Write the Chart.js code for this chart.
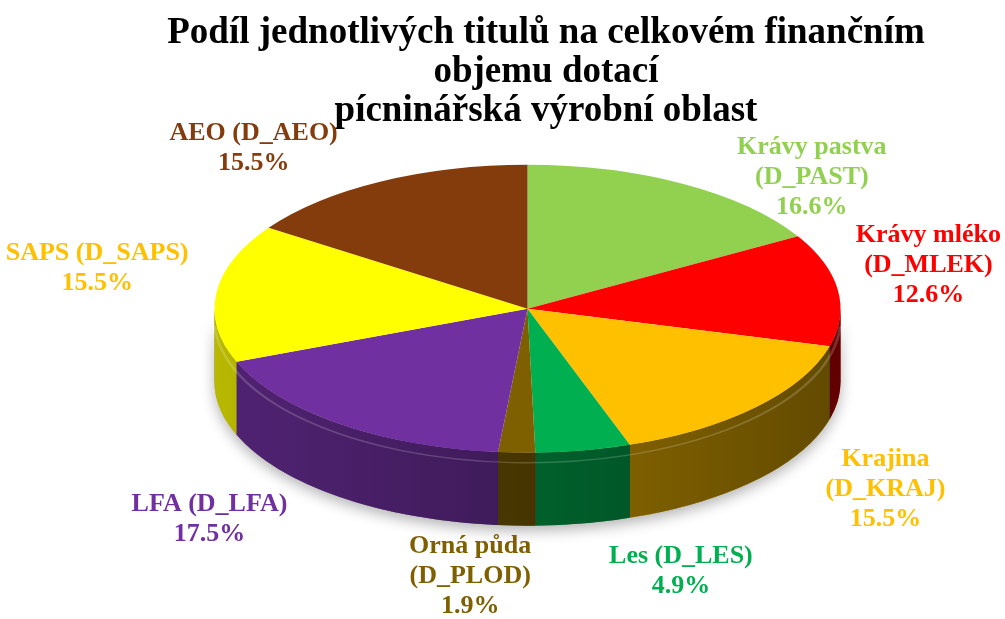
<!DOCTYPE html>
<html>
<head>
<meta charset="utf-8">
<script src="https://cdn.jsdelivr.net/npm/chart.js@4"></script>
<style>
  html, body { margin: 0; padding: 0; background: #fff; }
  #box { width: 1005px; height: 619px; }
</style>
</head>
<body>
<div id="box"><canvas id="graf"></canvas></div>
<script>
// data
const kategorie = ['Krávy pastva (D_PAST)', 'Krávy mléko (D_MLEK)', 'Krajina (D_KRAJ)', 'Les (D_LES)',
    'Orná půda (D_PLOD)', 'LFA (D_LFA)', 'SAPS (D_SAPS)', 'AEO (D_AEO)'];
const popisky = [['Krávy pastva', '(D_PAST)'], ['Krávy mléko', '(D_MLEK)'], ['Krajina', '(D_KRAJ)'], ['Les (D_LES)'],
    ['Orná půda', '(D_PLOD)'], ['LFA (D_LFA)'], ['SAPS (D_SAPS)'], ['AEO (D_AEO)']];
const podily = [16.6, 12.6, 15.5, 4.9, 1.9, 17.5, 15.5, 15.5];
const titulek = ['Podíl jednotlivých titulů na celkovém finančním', 'objemu dotací', 'pícninářská výrobní oblast'];

const barvy = ['#92D050', '#FF0000', '#FFC000', '#00B050', '#7F6000', '#7030A0', '#FFFF00', '#843C0C'];
const barvyTextu = ['#92D050', '#FF0000', '#FFC000', '#00B050', '#7F6000', '#7030A0', '#FFC000', '#843C0C'];

const SKLON = 0.46;   // vertical squash of the pie
const HLOUBKA = 73;   // side height in px
const PISMO_TITULKU = { family: '"Liberation Serif", "Times New Roman", serif', size: 37, weight: 'bold', lineHeight: 1.05 };

function bok(ctx, cx, cy, r, d, a0, a1) {
    ctx.beginPath();
    ctx.arc(cx, cy, r, a0, a1);
    ctx.arc(cx, cy + d, r, a1, a0, true);
    ctx.closePath();
}

const kolac3d = {
    id: 'kolac3d',
    beforeDatasetsDraw(chart) {
        const ctx = chart.ctx;
        const oblouky = chart.getDatasetMeta(0).data;
        const { x: cx, y: cy, outerRadius: r } = oblouky[0];
        const d = HLOUBKA / SKLON;

        ctx.save();
        ctx.translate(cx, cy);
        ctx.scale(1, SKLON);
        ctx.translate(-cx, -cy);

        // shadow under the pie
        ctx.save();
        ctx.shadowColor = 'rgba(0,0,0,0.3)';
        ctx.shadowBlur = 14;
        ctx.shadowOffsetY = 5;
        bok(ctx, cx, cy, r, d, 0, Math.PI);
        ctx.fillStyle = '#777';
        ctx.fill();
        ctx.restore();

        // side walls
        oblouky.forEach((a, i) => {
            const a0 = Math.max(a.startAngle, 0);
            const a1 = Math.min(a.endAngle, Math.PI);
            if (a1 <= a0) return;
            bok(ctx, cx, cy, r, d, a0, a1);
            ctx.fillStyle = barvy[i];
            ctx.fill();
        });
        const stin = ctx.createLinearGradient(cx - r, 0, cx + r, 0);
        stin.addColorStop(0, 'rgba(0,0,0,0.28)');
        stin.addColorStop(1, 'rgba(0,0,0,0.62)');
        bok(ctx, cx, cy, r, d, 0, Math.PI);
        ctx.fillStyle = stin;
        ctx.fill();

        // rim highlight
        ctx.beginPath();
        ctx.arc(cx, cy + 10 / SKLON, r, 0.05, Math.PI - 0.05);
        ctx.strokeStyle = 'rgba(255,255,255,0.18)';
        ctx.lineWidth = 3;
        ctx.stroke();

        // top face
        oblouky.forEach(a => a.draw(ctx));
        ctx.restore();
        return false;
    },
    afterDraw(chart) {
        const ctx = chart.ctx;
        const oblouky = chart.getDatasetMeta(0).data;
        const W = chart.width;
        const tb = chart.titleBlock;

        // horizontal extent of the last title line
        ctx.save();
        ctx.font = `bold ${PISMO_TITULKU.size}px ${PISMO_TITULKU.family}`;
        const posl = titulek[titulek.length - 1];
        const wCelk = ctx.measureText('\u2003' + posl).width;
        const wText = ctx.measureText(posl).width;
        const stred = (tb.left + tb.right) / 2;
        const tL = stred + wCelk / 2 - wText, tR = stred + wCelk / 2;
        ctx.restore();

        ctx.save();
        ctx.font = 'bold 26px "Liberation Serif", "Times New Roman", serif';
        ctx.textAlign = 'center';
        ctx.textBaseline = 'middle';
        const lh = 30;
        oblouky.forEach((a, i) => {
            const { x: cx, y: cy, outerRadius: r } = a;
            const ry = r * SKLON;
            const mid = (a.startAngle + a.endAngle) / 2;
            const ux = Math.cos(mid), uy = Math.sin(mid);
            const radky = popisky[i].concat([podily[i].toFixed(1) + '%']);
            const sirka = Math.max(...radky.map(t => ctx.measureText(t).width));
            const vyska = radky.length * lh;
            let x = cx + 1.38 * r * Math.sign(ux) * Math.pow(Math.abs(ux), 0.6);
            let y = uy < 0
                ? cy - (0.16 + 1.08 * -uy) * ry
                : cy + 1.35 * ry * Math.pow(uy, 1.55) + HLOUBKA * Math.min(1, uy * 3);
            x = Math.min(W - 4 - sirka / 2, Math.max(4 + sirka / 2, x));
            // labels that sit under the title text are pushed below it
            const prekryv = Math.min(tR, x + sirka / 2) - Math.max(tL, x - sirka / 2);
            const mez = prekryv > 8 ? tb.bottom + 2 : tb.bottom - 12;
            y = Math.max(mez + vyska / 2, y);
            ctx.fillStyle = barvyTextu[i];
            radky.forEach((t, k) => ctx.fillText(t, x, y - (radky.length - 1) * lh / 2 + k * lh));
        });
        ctx.restore();
    }
};

new Chart(document.getElementById('graf'), {
    type: 'pie',
    data: {
        labels: kategorie,
        datasets: [{
            data: podily,
            backgroundColor: barvy,
            borderWidth: 0
        }]
    },
    options: {
        responsive: true,
        maintainAspectRatio: false,
        animation: false,
        events: [],
        radius: 313,
        layout: { padding: { left: 50, right: 0, top: 0, bottom: 132 } },
        plugins: {
            legend: { display: false },
            tooltip: { enabled: false },
            title: {
                display: true,
                // leading em space nudges the centred title a little right, as in the original
                text: titulek.map(t => '\u2003' + t),
                color: '#000',
                font: PISMO_TITULKU,
                padding: { top: 14, bottom: 0 }
            }
        }
    },
    plugins: [kolac3d]
});
</script>
</body>
</html>
